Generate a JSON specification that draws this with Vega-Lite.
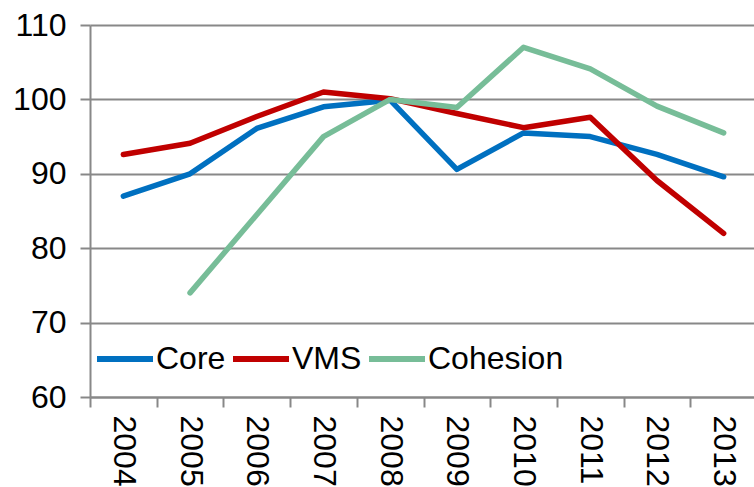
{
  "$schema": "https://vega.github.io/schema/vega-lite/v6.json",
  "autosize": "none",
  "width": 667,
  "height": 372,
  "padding": {"left": 90, "top": 25, "right": 0, "bottom": 90},
  "background": "white",
  "config": {
    "view": {"stroke": null},
    "font": "Liberation Sans"
  },
  "data": {
    "values": [
      {"year": "2004", "series": "Core", "value": 87.0},
      {"year": "2005", "series": "Core", "value": 90.0},
      {"year": "2006", "series": "Core", "value": 96.1},
      {"year": "2007", "series": "Core", "value": 99.0},
      {"year": "2008", "series": "Core", "value": 99.9},
      {"year": "2009", "series": "Core", "value": 90.6},
      {"year": "2010", "series": "Core", "value": 95.5},
      {"year": "2011", "series": "Core", "value": 95.0},
      {"year": "2012", "series": "Core", "value": 92.6},
      {"year": "2013", "series": "Core", "value": 89.6},
      {"year": "2004", "series": "VMS", "value": 92.6},
      {"year": "2005", "series": "VMS", "value": 94.1},
      {"year": "2006", "series": "VMS", "value": 97.7},
      {"year": "2007", "series": "VMS", "value": 101.0},
      {"year": "2008", "series": "VMS", "value": 100.1},
      {"year": "2009", "series": "VMS", "value": 98.1},
      {"year": "2010", "series": "VMS", "value": 96.2},
      {"year": "2011", "series": "VMS", "value": 97.6},
      {"year": "2012", "series": "VMS", "value": 89.1},
      {"year": "2013", "series": "VMS", "value": 82.0},
      {"year": "2005", "series": "Cohesion", "value": 74.0},
      {"year": "2006", "series": "Cohesion", "value": 84.5},
      {"year": "2007", "series": "Cohesion", "value": 95.0},
      {"year": "2008", "series": "Cohesion", "value": 100.0},
      {"year": "2009", "series": "Cohesion", "value": 98.9},
      {"year": "2010", "series": "Cohesion", "value": 107.0},
      {"year": "2011", "series": "Cohesion", "value": 104.1},
      {"year": "2012", "series": "Cohesion", "value": 99.1},
      {"year": "2013", "series": "Cohesion", "value": 95.5}
    ]
  },
  "mark": {"type": "line", "strokeWidth": 5.5, "strokeCap": "round", "strokeJoin": "round"},
  "encoding": {
    "x": {
      "field": "year",
      "type": "ordinal",
      "bandPosition": 0.5,
      "scale": {"type": "band", "paddingInner": 0, "paddingOuter": 0},
      "axis": {
        "title": null,
        "labelAngle": 90,
        "labelFontSize": 32,
        "labelColor": "#000000",
        "labelPadding": 8,
        "tickBand": "extent",
        "tickSize": 10,
        "tickColor": "#888888",
        "tickWidth": 2,
        "domainColor": "#888888",
        "domainWidth": 2,
        "grid": false
      }
    },
    "y": {
      "field": "value",
      "type": "quantitative",
      "scale": {"domain": [60, 110], "nice": false, "zero": false},
      "axis": {
        "title": null,
        "values": [60, 70, 80, 90, 100, 110],
        "labelFontSize": 32,
        "labelColor": "#000000",
        "labelPadding": 14,
        "tickSize": 10,
        "tickColor": "#888888",
        "tickWidth": 2,
        "domainColor": "#888888",
        "domainWidth": 2,
        "grid": true,
        "gridColor": "#888888",
        "gridWidth": 2
      }
    },
    "color": {
      "field": "series",
      "type": "nominal",
      "sort": ["Core", "VMS", "Cohesion"],
      "scale": {"domain": ["Core", "VMS", "Cohesion"], "range": ["#0070C0", "#C00000", "#77BD98"]},
      "legend": {
        "title": null,
        "orient": "none",
        "direction": "horizontal",
        "legendX": 4,
        "legendY": 303,
        "padding": 0,
        "symbolType": "stroke",
        "symbolSize": 3136,
        "symbolStrokeWidth": 6,
        "labelFontSize": 32,
        "labelColor": "#000000",
        "labelOffset": 0,
        "columnPadding": -5
      }
    }
  }
}
